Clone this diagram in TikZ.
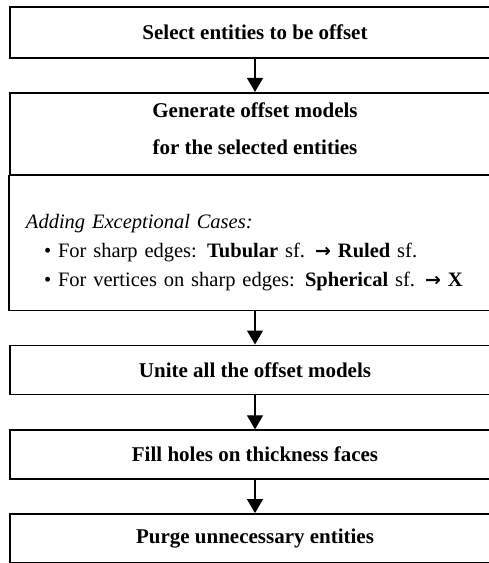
\documentclass[tikz,border=0pt]{standalone}
\usepackage{fontspec}
\setmainfont{Liberation Serif}
\newfontfamily\arrowfont{DejaVu Sans}
\usetikzlibrary{positioning,arrows.meta}
\tikzstyle{every node}=[font=\fontsize{20.5}{25}\selectfont]
\tikzstyle{every path}=[line width=1.8pt]
\tikzstyle{stepbox}=[draw, rectangle, minimum width=490pt, minimum height=49pt, inner sep=0pt, font=\bfseries\fontsize{21}{25}\selectfont]
\tikzstyle{flow}=[-{Triangle[width=16pt,length=14pt]}, line width=1.3pt]
\newcommand{\tosurf}{{\arrowfont\bfseries\fontsize{19}{20}\selectfont →}}

\begin{document}
\begin{tikzpicture}[x=1pt,y=1pt]
\useasboundingbox (0,0) rectangle (489,-563);

\node[stepbox, minimum height=51pt] (select) at (255,-32.5) {Select entities to be offset};
\node[stepbox, minimum height=82pt, align=center, below=33pt of select] (generate) {Generate offset models\\[12pt]for the selected entities\rule[-10pt]{0pt}{0pt}};
\node[stepbox, draw=none, minimum height=133pt, below=0pt of generate, font=\fontsize{20.5}{29}\selectfont,
  text width=458pt, align=left] (cases)
  {\rule{0pt}{34pt}\textit{Adding Exceptional Cases:}\\
   \hspace*{18pt}\textbullet\ For sharp edges: \textbf{Tubular} sf. \tosurf\ \textbf{Ruled} sf.\\
   \hspace*{18pt}\textbullet\ For vertices on sharp edges: \textbf{Spherical} sf. \tosurf\ \textbf{X}};
\draw[line cap=rect] (generate.south west) -- (cases.south west) -- (cases.south east) -- (generate.south east);
\node[stepbox, below=34pt of cases] (unite) {Unite all the offset models};
\node[stepbox, below=34pt of unite] (fill) {Fill holes on thickness faces};
\node[stepbox, below=33pt of fill] (purge) {Purge unnecessary entities};

\draw[flow] (select) -- (generate);
\draw[flow] (cases) -- (unite);
\draw[flow] (unite) -- (fill);
\draw[flow] (fill) -- (purge);

\end{tikzpicture}
\end{document}
